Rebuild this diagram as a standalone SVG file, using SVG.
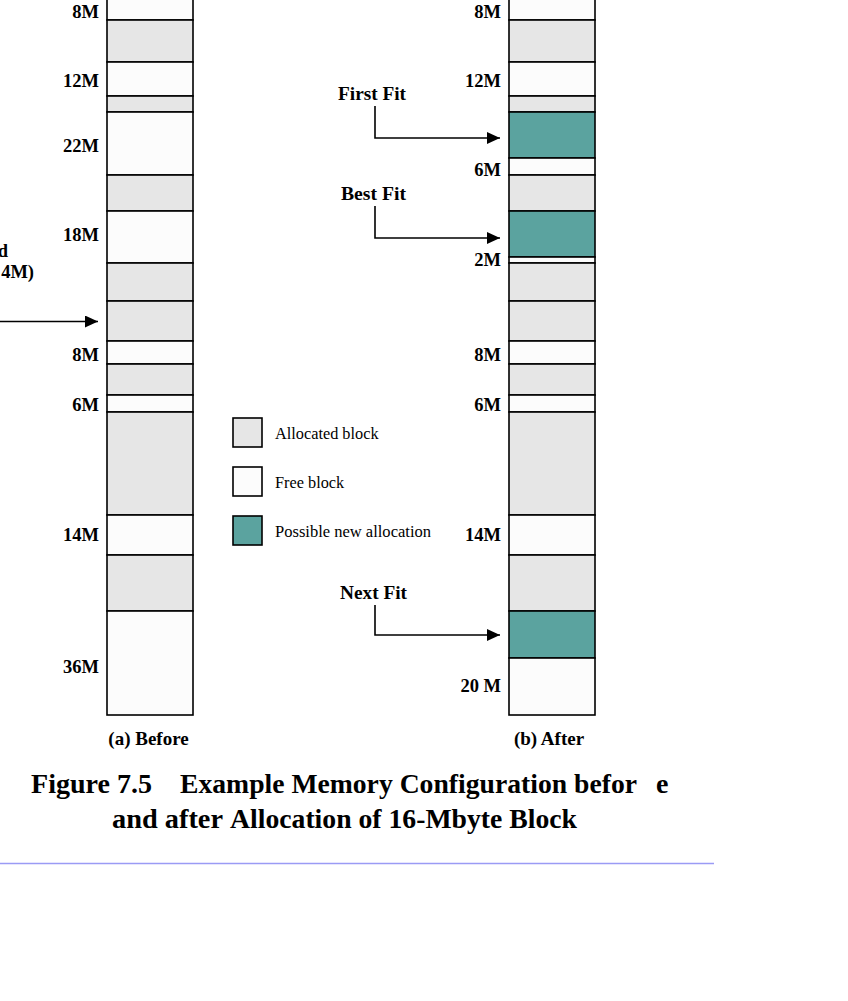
<svg xmlns="http://www.w3.org/2000/svg" width="848" height="1001" viewBox="0 0 848 1001">
<style>
.a{fill:#e6e6e6;stroke:#000;stroke-width:1.6}
.f{fill:#fcfcfc;stroke:#000;stroke-width:1.6}
.t{fill:#5ba39f;stroke:#000;stroke-width:1.6}
.lb{font-family:"Liberation Serif",serif;font-weight:bold;font-size:19px;fill:#000}
.lbl{font-family:"Liberation Serif",serif;font-weight:bold;font-size:18.5px;fill:#000;text-anchor:end}
.lg{font-family:"Liberation Serif",serif;font-size:16.3px;fill:#000}
.ti{font-family:"Liberation Serif",serif;font-weight:bold;font-size:28px;fill:#000}
.cn{fill:none;stroke:#000;stroke-width:1.6}
</style>
<defs>
<marker id="ah" viewBox="0 0 13 12" refX="13" refY="6" markerWidth="13" markerHeight="12" markerUnits="userSpaceOnUse" orient="auto">
<path d="M0,0 L13,6 L0,12 Z" fill="#000"/>
</marker>
</defs>
<rect width="848" height="1001" fill="#fff"/>

<g id="before">
<rect class="f" x="107" y="-5" width="86" height="25"/>
<rect class="a" x="107" y="20" width="86" height="42"/>
<rect class="f" x="107" y="62" width="86" height="34"/>
<rect class="a" x="107" y="96" width="86" height="16"/>
<rect class="f" x="107" y="112" width="86" height="63"/>
<rect class="a" x="107" y="175" width="86" height="36"/>
<rect class="f" x="107" y="211" width="86" height="52"/>
<rect class="a" x="107" y="263" width="86" height="38"/>
<rect class="a" x="107" y="301" width="86" height="40"/>
<rect class="f" x="107" y="341" width="86" height="23"/>
<rect class="a" x="107" y="364" width="86" height="31"/>
<rect class="f" x="107" y="395" width="86" height="17"/>
<rect class="a" x="107" y="412" width="86" height="103"/>
<rect class="f" x="107" y="515" width="86" height="40"/>
<rect class="a" x="107" y="555" width="86" height="56"/>
<rect class="f" x="107" y="611" width="86" height="104"/>
<text class="lbl" x="99" y="18">8M</text>
<text class="lbl" x="99" y="87">12M</text>
<text class="lbl" x="99" y="152">22M</text>
<text class="lbl" x="99" y="241">18M</text>
<text class="lbl" x="99" y="361">8M</text>
<text class="lbl" x="99" y="411">6M</text>
<text class="lbl" x="99" y="541">14M</text>
<text class="lbl" x="99" y="673">36M</text>
<text class="lb" x="148.5" y="745" text-anchor="middle">(a) Before</text>
</g>

<g id="after">
<rect class="f" x="509" y="-5" width="86" height="25"/>
<rect class="a" x="509" y="20" width="86" height="42"/>
<rect class="f" x="509" y="62" width="86" height="34"/>
<rect class="a" x="509" y="96" width="86" height="16"/>
<rect class="t" x="509" y="112" width="86" height="46"/>
<rect class="f" x="509" y="158" width="86" height="17"/>
<rect class="a" x="509" y="175" width="86" height="36"/>
<rect class="t" x="509" y="211" width="86" height="46"/>
<rect class="f" x="509" y="257" width="86" height="6"/>
<rect class="a" x="509" y="263" width="86" height="38"/>
<rect class="a" x="509" y="301" width="86" height="40"/>
<rect class="f" x="509" y="341" width="86" height="23"/>
<rect class="a" x="509" y="364" width="86" height="31"/>
<rect class="f" x="509" y="395" width="86" height="17"/>
<rect class="a" x="509" y="412" width="86" height="103"/>
<rect class="f" x="509" y="515" width="86" height="40"/>
<rect class="a" x="509" y="555" width="86" height="56"/>
<rect class="t" x="509" y="611" width="86" height="47"/>
<rect class="f" x="509" y="658" width="86" height="57"/>
<text class="lbl" x="501" y="18">8M</text>
<text class="lbl" x="501" y="87">12M</text>
<text class="lbl" x="501" y="176">6M</text>
<text class="lbl" x="501" y="266">2M</text>
<text class="lbl" x="501" y="361">8M</text>
<text class="lbl" x="501" y="411">6M</text>
<text class="lbl" x="501" y="541">14M</text>
<text class="lbl" x="501" y="692">20 M</text>
<text class="lb" x="549" y="745" text-anchor="middle">(b) After</text>
</g>

<g id="labels">
<text class="lb" x="338" y="100" textLength="68" lengthAdjust="spacingAndGlyphs">First Fit</text>
<text class="lb" x="341" y="200" textLength="65" lengthAdjust="spacingAndGlyphs">Best Fit</text>
<text class="lb" x="340" y="599" textLength="67" lengthAdjust="spacingAndGlyphs">Next Fit</text>
<text class="lbl" x="8" y="257">d</text>
<text class="lbl" x="34" y="278">4M)</text>
</g>

<g id="connectors">
<path class="cn" d="M375,106 V138 H500" marker-end="url(#ah)"/>
<path class="cn" d="M375,206 V238 H500" marker-end="url(#ah)"/>
<path class="cn" d="M375,605 V635 H500" marker-end="url(#ah)"/>
<path class="cn" d="M0,321.5 H98" marker-end="url(#ah)"/>
</g>

<g id="legend">
<rect class="a" x="233" y="418" width="29" height="29"/>
<text class="lg" x="275" y="439">Allocated block</text>
<rect class="f" x="233" y="467" width="29" height="29"/>
<text class="lg" x="275" y="488">Free block</text>
<rect class="t" x="233" y="516" width="29" height="29"/>
<text class="lg" x="275" y="537" textLength="156" lengthAdjust="spacingAndGlyphs">Possible new allocation</text>
</g>

<g id="title">
<text class="ti" y="793"><tspan x="31" textLength="121" lengthAdjust="spacingAndGlyphs">Figure 7.5</tspan><tspan x="180" textLength="457" lengthAdjust="spacingAndGlyphs">Example Memory Configuration befor</tspan><tspan x="656">e</tspan></text>
<text class="ti" y="828"><tspan x="112" textLength="111" lengthAdjust="spacingAndGlyphs">and after</tspan><tspan x="230" textLength="347" lengthAdjust="spacingAndGlyphs">Allocation of 16-Mbyte Block</tspan></text>
</g>
<line x1="0" y1="863.5" x2="714" y2="863.5" stroke="#9b9bf5" stroke-width="1.5"/>
</svg>
